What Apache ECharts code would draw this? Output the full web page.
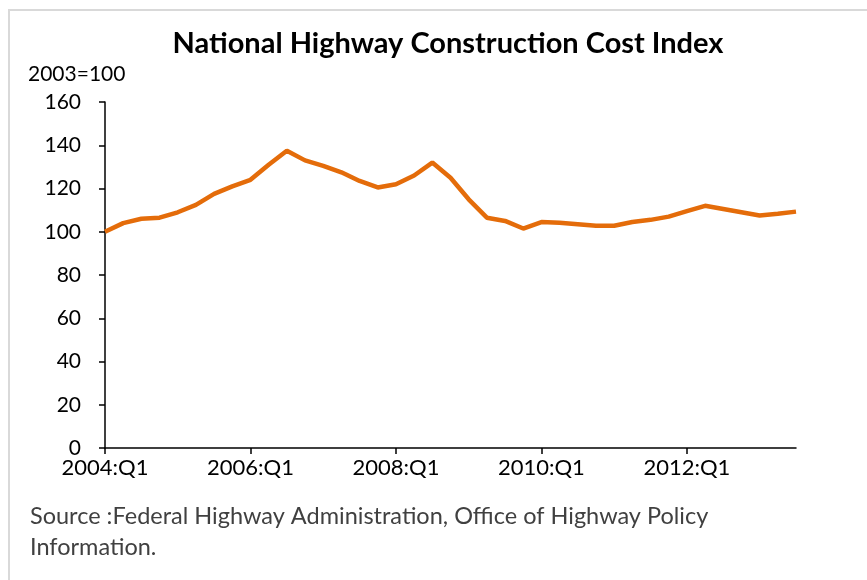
<!DOCTYPE html>
<html>
<head>
<meta charset="utf-8">
<script src="https://cdn.jsdelivr.net/npm/echarts@6/dist/echarts.min.js"></script>
<style>
html,body{margin:0;padding:0;background:#fff;}
#chart{width:867px;height:580px;}
</style>
</head>
<body>
<div id="chart"></div>
<script>
// Quarters 2004:Q1 .. 2013:Q3
const categories = [];
for (let y = 2004; y <= 2013; y++) {
  for (let q = 1; q <= 4; q++) {
    if (y === 2013 && q > 3) break;
    categories.push(y + ':Q' + q);
  }
}
const indexValues = [
  100, 104, 106, 106.5, 109, 112.4, 117.5, 121, 124, 131,
  137.5, 133, 130.5, 127.5, 123.5, 120.5, 122, 126, 132, 125,
  115, 106.5, 105, 101.5, 104.5, 104.2, 103.5, 102.8, 102.8, 104.5,
  105.5, 107, 109.5, 112, 110.5, 109, 107.5, 108.3, 109.3
];
const titleText = 'National Highway Construction Cost Index';
const unitText = '2003=100';
const sourceLines = ['Source :Federal Highway Administration, Office of Highway Policy', 'Information.'];

const FONT = 'Lato, "Open Sans", sans-serif';
const chart = echarts.init(document.getElementById('chart'));
chart.setOption({
  backgroundColor: '#fff',
  animation: false,
  title: {
    text: titleText,
    left: 443, textAlign: 'center', top: 24,
    textStyle: { fontFamily: FONT, fontWeight: 'bold', fontSize: 29, color: '#000' }
  },
  grid: { left: 105, right: 71, top: 102, bottom: 132 },
  xAxis: {
    type: 'category',
    data: categories,
    boundaryGap: false,
    axisLine: { lineStyle: { color: '#000', width: 1.5 } },
    axisTick: { interval: 7, length: 6, lineStyle: { color: '#000', width: 1.5 } },
    axisLabel: { interval: 7, margin: 9, fontFamily: FONT, fontSize: 22, color: '#000' }
  },
  yAxis: {
    type: 'value',
    min: 0, max: 160, interval: 20,
    splitLine: { show: false },
    axisLine: { show: true, lineStyle: { color: '#000', width: 1.5 } },
    axisTick: { show: true, length: 6, lineStyle: { color: '#000', width: 1.5 } },
    axisLabel: { margin: 24, fontFamily: FONT, fontSize: 21, color: '#000' }
  },
  series: [{
    type: 'line',
    data: indexValues,
    symbol: 'none',
    lineStyle: { color: '#E46C0A', width: 4.5 },
    itemStyle: { color: '#E46C0A' }
  }],
  graphic: [
    { type: 'rect', shape: { x: 9, y: 10, width: 900, height: 620 }, style: { fill: 'none', stroke: '#d9d9d9', lineWidth: 2 } },
    { type: 'text', left: 28, top: 64, style: { text: unitText, font: '21px ' + FONT, fill: '#000' } },
    { type: 'text', left: 30, top: 504, style: { text: sourceLines[0], font: '23.5px ' + FONT, fill: '#404040' } },
    { type: 'text', left: 30, top: 535, style: { text: sourceLines[1], font: '23.5px ' + FONT, fill: '#404040' } }
  ]
});
</script>
</body>
</html>
